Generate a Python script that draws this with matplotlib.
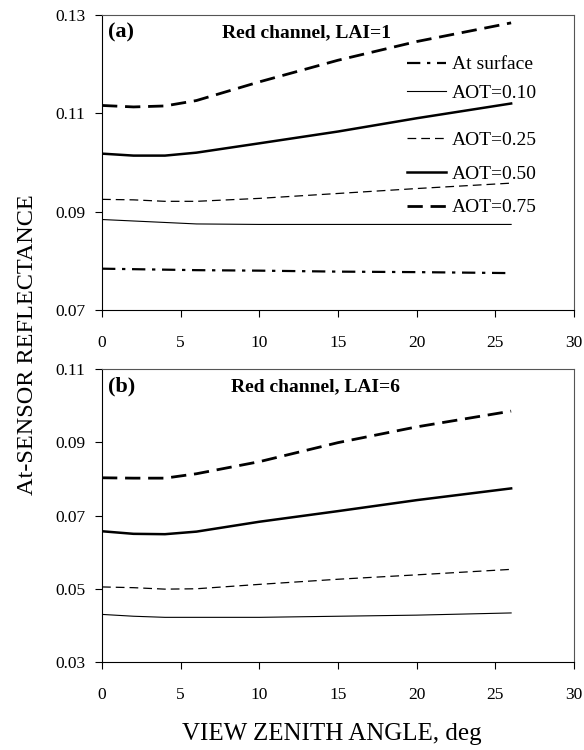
import matplotlib
matplotlib.use("Agg")
import matplotlib.pyplot as plt

plt.rcParams['font.family'] = ['Liberation Serif', 'DejaVu Serif']

angles = [0, 2, 4, 6, 10, 15, 20, 26]

# Panel (a): Red channel, LAI=1
a_surface = [0.0784, 0.0783, 0.0782, 0.0781, 0.0780, 0.0778, 0.0777, 0.0775]
a_aot010 = [0.0884, 0.0881, 0.0878, 0.0875, 0.0874, 0.0874, 0.0874, 0.0874]
a_aot025 = [0.0925, 0.0924, 0.0921, 0.0921, 0.0927, 0.0937, 0.0947, 0.0958]
a_aot050 = [0.1018, 0.1014, 0.1014, 0.1020, 0.1039, 0.1063, 0.1090, 0.1120]
a_aot075 = [0.1116, 0.1113, 0.1115, 0.1126, 0.1164, 0.1208, 0.1246, 0.1284]

# Panel (b): Red channel, LAI=6
b_aot010 = [0.0430, 0.0425, 0.0422, 0.0422, 0.0422, 0.0425, 0.0428, 0.0434]
b_aot025 = [0.0505, 0.0503, 0.0499, 0.0500, 0.0512, 0.0526, 0.0538, 0.0553]
b_aot050 = [0.0657, 0.0650, 0.0649, 0.0656, 0.0683, 0.0712, 0.0742, 0.0774]
b_aot075 = [0.0803, 0.0802, 0.0802, 0.0814, 0.0847, 0.0899, 0.0942, 0.0985]

labels = ["At surface", "AOT=0.10", "AOT=0.25", "AOT=0.50", "AOT=0.75"]
xticks = [0, 5, 10, 15, 20, 25, 30]
a_yticks = [0.07, 0.09, 0.11, 0.13]
b_yticks = [0.03, 0.05, 0.07, 0.09, 0.11]

styles = {
    "At surface": dict(ls=(0, (6, 3, 1.5, 3)), lw=1.6),
    "AOT=0.10": dict(ls='-', lw=0.8),
    "AOT=0.25": dict(ls=(0, (7, 4)), lw=0.9),
    "AOT=0.50": dict(ls='-', lw=1.8),
    "AOT=0.75": dict(ls=(0, (5.5, 2.8)), lw=2.0),
}

fig = plt.figure(figsize=(5.84, 7.5), dpi=100)
ax1 = fig.add_axes([0.1747, 0.5867, 0.8083, 0.3933])
ax2 = fig.add_axes([0.1747, 0.1173, 0.8083, 0.3907])

handles = {}
for lab, ys in zip(labels, [a_surface, a_aot010, a_aot025, a_aot050, a_aot075]):
    handles[lab], = ax1.plot(angles, ys, color='black', label=lab, **styles[lab])
for lab, ys in zip(labels[1:], [b_aot010, b_aot025, b_aot050, b_aot075]):
    ax2.plot(angles, ys, color='black', **styles[lab])

for ax, yt, title, tag, tx in [(ax1, a_yticks, "Red channel, LAI=1", "(a)", 0.434),
                               (ax2, b_yticks, "Red channel, LAI=6", "(b)", 0.453)]:
    ax.set_xlim(0, 30)
    ax.set_ylim(yt[0], yt[-1])
    ax.set_xticks(xticks)
    ax.set_yticks(yt)
    ax.set_yticklabels([f"{v:.2f}" for v in yt])
    ax.tick_params(direction='out', labelsize=12.5, length=5, width=0.8)
    ax.tick_params(axis='x', pad=13)
    ax.tick_params(axis='y', pad=7)
    for s in ax.spines.values():
        s.set_linewidth(0.8)
    for s in ('top', 'right'):
        ax.spines[s].set_color('#555555')
    ax.text(0.013, 0.94, tag, transform=ax.transAxes, fontsize=16,
            fontweight='bold', va='center', ha='left')
    ax.text(tx, 0.94, title, transform=ax.transAxes, fontsize=14,
            fontweight='bold', va='center', ha='center')

leg_kw = dict(loc='upper left', frameon=False, fontsize=14, handlelength=2.0,
              handletextpad=0.3, borderpad=0, borderaxespad=0)
leg1 = ax1.legend([handles[l] for l in labels[:2]], labels[:2],
                  bbox_to_anchor=(0.646, 0.862), labelspacing=0.55, **leg_kw)
ax1.add_artist(leg1)
ax1.legend([handles[l] for l in labels[2:]], labels[2:],
           bbox_to_anchor=(0.646, 0.606), labelspacing=0.83, **leg_kw)

fig.text(0.047, 0.54, "At-SENSOR REFLECTANCE", rotation=90, fontsize=17.5,
         va='center', ha='center')
fig.text(0.568, 0.0133, "VIEW ZENITH ANGLE, deg", fontsize=18,
         va='baseline', ha='center')

fig.savefig("out.png", dpi=100)
